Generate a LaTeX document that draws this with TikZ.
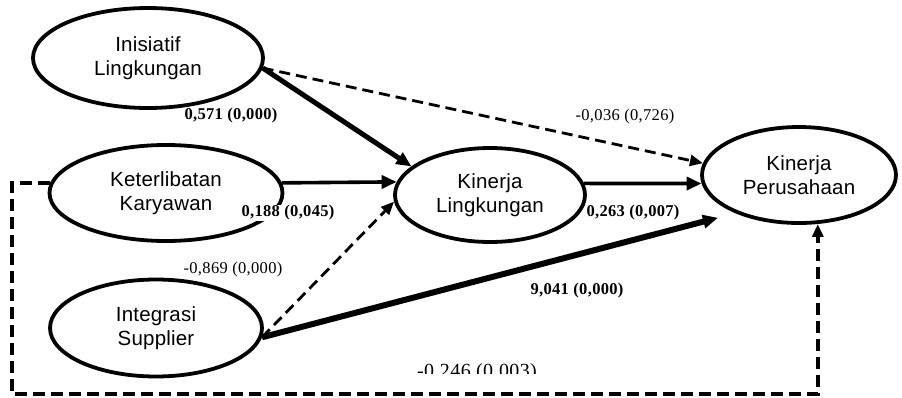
\documentclass[tikz,border=0pt]{standalone}
\usepackage{fontspec}
\setmainfont{Liberation Serif}
\newfontfamily\elfont[LetterSpace=1]{Liberation Sans}
\newfontfamily\numfont[LetterSpace=2]{Liberation Serif}
\usetikzlibrary{shapes.geometric,arrows.meta}
\begin{document}
\begin{tikzpicture}[x=1pt,y=1pt,
  latent/.style={ellipse,draw,line width=3.8pt,inner sep=0pt,align=center,
    font=\elfont\fontsize{20.5}{24}\selectfont},
  coefb/.style={font=\numfont\fontsize{16.5}{18}\selectfont\bfseries,inner sep=0pt},
  coefn/.style={font=\numfont\fontsize{16.5}{18}\selectfont,inner sep=0pt},
  solidarr/.style={-{Triangle[length=15pt,width=13pt]}},
  dasharr/.style={dash pattern=on 11pt off 6pt,line width=2.8pt,-{Triangle[length=13pt,width=11pt]}},
  bigdash/.style={dash pattern=on 12pt off 6pt,line width=4.2pt,-{Triangle[length=13pt,width=11pt]}}
]
\useasboundingbox (0,0) rectangle (902,-397);

\node[latent,minimum width=230pt,minimum height=100pt] (ini) at (148,-58) {Inisiatif\\Lingkungan};
\node[latent,minimum width=233pt,minimum height=96pt] (ket) at (166,-193) {Keterlibatan\\Karyawan};
\node[latent,minimum width=190pt,minimum height=94pt] (kl) at (490,-195) {Kinerja\\Lingkungan};
\node[latent,minimum width=194pt,minimum height=96pt] (kp) at (799,-175) {Kinerja\\Perusahaan};
\node[latent,minimum width=212pt,minimum height=97pt] (int) at (156,-328) {Integrasi\\Supplier};

% connectors
\draw[solidarr,line width=5pt] (ini.-5) -- (kl.160);
\draw[dasharr] (ini.-5) -- (kp.173);
\draw[solidarr,line width=3.6pt] (ket.5) -- (kl.172);
\draw[solidarr,line width=3.6pt] (kl.7) -- (kp.185);
\draw[dasharr] (int.-5) -- (kl.184);
\draw[solidarr,line width=6pt,shorten >=18pt] (int.-5) -- (kp.211);
\coordinate (bl) at (12,-394);
\draw[bigdash] (ket.175) -| (bl) -| (kp.-69);

% labels
\node[coefb] (l1) at (231,-116) {0,571 (0,000)};
\node[coefn] (l2) at (625,-117) {-0,036 (0,726)};
\node[coefb,fill=white,inner sep=1pt] (l3) at (288,-213) {0,188 (0,045)};
\node[coefb] (l4) at (633,-213) {0,263 (0,007)};
\node[coefn] (l5) at (233,-270) {-0,869 (0,000)};
\node[coefb] (l6) at (577,-291) {9,041 (0,000)};
\begin{scope}
  \clip (380,-355) rectangle (580,-373);
  \node[coefn,font=\numfont\fontsize{20}{22}\selectfont,anchor=base] (l7) at (477,-377) {-0,246 (0,003)};
\end{scope}
\end{tikzpicture}
\end{document}
